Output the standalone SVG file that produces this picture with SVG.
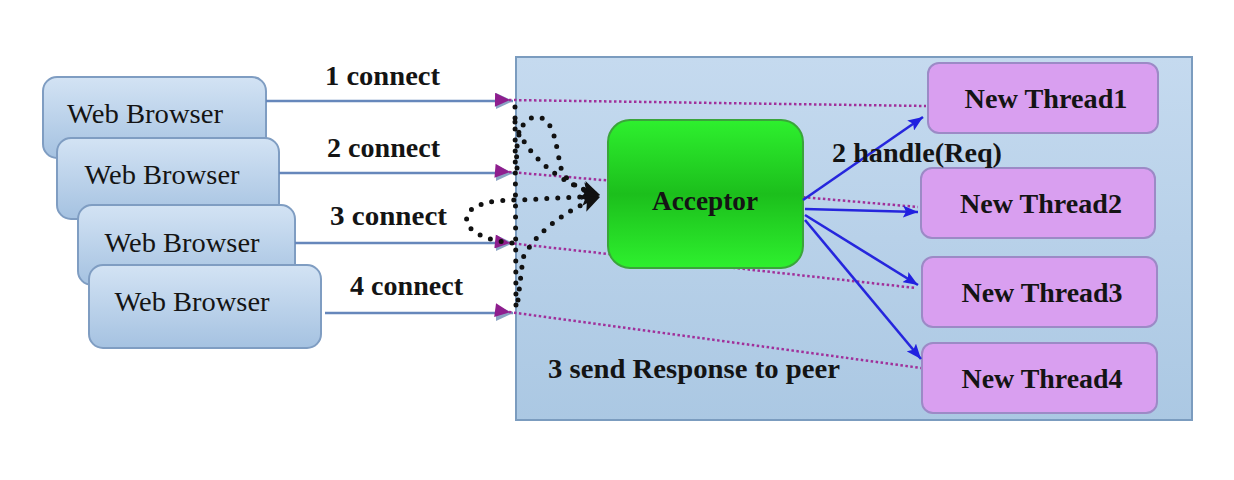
<svg xmlns="http://www.w3.org/2000/svg" width="1234" height="480" viewBox="0 0 1234 480">
<style>
.serif{font-family:"Liberation Serif","Times New Roman",serif;fill:#141414}
.b{font-weight:bold}
.lbl{font-size:27px}
.wb{font-size:28px;font-weight:normal;text-anchor:middle}
.nt{font-size:28px;font-weight:bold;text-anchor:middle}
.box{fill:url(#gBlue);stroke:#7f9dc2;stroke-width:2}
.thr{fill:#d99ff0;stroke:#9c8ac6;stroke-width:2}
.conn{stroke:#6687bb;stroke-width:2.5;fill:none}
.resp{stroke:#a0309a;stroke-width:2.5;fill:none;stroke-dasharray:2.5 2.5}
.loop{stroke:#111;stroke-width:5;fill:none;stroke-dasharray:0 11;stroke-linecap:round}
.hand{stroke:#2626dd;stroke-width:2.6;fill:none}
</style>
<defs>
<linearGradient id="gBlue" x1="0" y1="0" x2="0" y2="1">
<stop offset="0" stop-color="#d3e3f4"/>
<stop offset="1" stop-color="#a5c2e1"/>
</linearGradient>
<linearGradient id="gCont" x1="0" y1="0" x2="0" y2="1">
<stop offset="0" stop-color="#c5daef"/>
<stop offset="1" stop-color="#abc8e3"/>
</linearGradient>
<linearGradient id="gGreen" x1="0" y1="0" x2="0" y2="1">
<stop offset="0" stop-color="#2ef02e"/>
<stop offset="0.5" stop-color="#1cbf1c"/>
<stop offset="1" stop-color="#2ef02e"/>
</linearGradient>
<marker id="mConn" markerUnits="userSpaceOnUse" markerWidth="18" markerHeight="16" refX="17" refY="8" orient="auto">
<path d="M0,0 L17,8 L0,16 Z" fill="#8aa3c3"/>
</marker>
<marker id="mResp" markerUnits="userSpaceOnUse" markerWidth="16" markerHeight="14" refX="1" refY="7" orient="auto-start-reverse">
<path d="M15,0 L0,7 L15,14 Z" fill="#8e1e8e"/>
</marker>
<marker id="mHand" markerUnits="userSpaceOnUse" markerWidth="16" markerHeight="12" refX="15" refY="6" orient="auto">
<path d="M0,0 L15,6 L0,12 L3,6 Z" fill="#2020e0"/>
</marker>
<marker id="mLoop" markerUnits="userSpaceOnUse" markerWidth="20" markerHeight="18" refX="18" refY="9" orient="auto">
<path d="M0,0 L18,9 L0,18 L4,9 Z" fill="#111"/>
</marker>
</defs>
<rect width="1234" height="480" fill="#ffffff"/>

<g id="server">
<rect x="516" y="57" width="676" height="363" fill="url(#gCont)" stroke="#7b9cbf" stroke-width="2"/>
</g>

<g id="browser1"><rect class="box" x="43" y="77" width="223" height="81" rx="14"/><text class="serif wb" x="145" y="123" textLength="156" lengthAdjust="spacingAndGlyphs">Web Browser</text></g>
<g id="browser2"><rect class="box" x="57" y="138" width="222" height="81" rx="14"/><text class="serif wb" x="162" y="184" textLength="155" lengthAdjust="spacingAndGlyphs">Web Browser</text></g>
<g id="browser3"><rect class="box" x="78" y="205" width="217" height="80" rx="14"/><text class="serif wb" x="182" y="252" textLength="155" lengthAdjust="spacingAndGlyphs">Web Browser</text></g>
<g id="browser4"><rect class="box" x="89" y="265" width="232" height="83" rx="14"/><text class="serif wb" x="192" y="311" textLength="155" lengthAdjust="spacingAndGlyphs">Web Browser</text></g>

<g id="connectors">
<line class="conn" x1="266" y1="101" x2="513" y2="101" marker-end="url(#mConn)"/>
<line class="conn" x1="279" y1="173" x2="513" y2="173" marker-end="url(#mConn)"/>
<line class="conn" x1="295" y1="243" x2="513" y2="243" marker-end="url(#mConn)"/>
<line class="conn" x1="325" y1="313" x2="513" y2="313" marker-end="url(#mConn)"/>
<line class="resp" x1="509" y1="100" x2="926" y2="106" marker-start="url(#mResp)"/>
<line class="resp" x1="509" y1="172" x2="918" y2="207" marker-start="url(#mResp)"/>
<line class="resp" x1="509" y1="243" x2="916" y2="288" marker-start="url(#mResp)"/>
<line class="resp" x1="509" y1="312" x2="921" y2="368" marker-start="url(#mResp)"/>
</g>

<g id="acceptor">
<rect x="608" y="120" width="195" height="148" rx="22" fill="url(#gGreen)" stroke="#3aa53a" stroke-width="2"/>
<text class="serif nt" x="705" y="210" textLength="106" lengthAdjust="spacingAndGlyphs">Acceptor</text>
</g>

<g id="thread1"><rect class="thr" x="928" y="63" width="230" height="70" rx="11"/><text class="serif nt" x="1046" y="108" textLength="163" lengthAdjust="spacingAndGlyphs">New Thread1</text></g>
<g id="thread2"><rect class="thr" x="921" y="168" width="234" height="70" rx="11"/><text class="serif nt" x="1041" y="213" textLength="162" lengthAdjust="spacingAndGlyphs">New Thread2</text></g>
<g id="thread3"><rect class="thr" x="922" y="257" width="235" height="70" rx="11"/><text class="serif nt" x="1042" y="302" textLength="161" lengthAdjust="spacingAndGlyphs">New Thread3</text></g>
<g id="thread4"><rect class="thr" x="922" y="343" width="235" height="70" rx="11"/><text class="serif nt" x="1042" y="388" textLength="161" lengthAdjust="spacingAndGlyphs">New Thread4</text></g>

<g id="loops">
<path class="loop" d="M515,107 L516,308"/>
<path class="loop" d="M515,122 C520,140 535,160 560,177 C572,185 584,190 600,195" marker-end="url(#mLoop)"/>
<path class="loop" d="M517,168 C515,140 520,117 537,117 C555,118 556,148 561,168 C566,183 582,191 600,195" marker-end="url(#mLoop)"/>
<path class="loop" d="M512,243 C490,241 463,232 467,216 C471,203 495,200 518,200 L600,196" marker-end="url(#mLoop)"/>
<path class="loop" d="M518,300 L523,258 C532,238 560,212 600,197" marker-end="url(#mLoop)"/>
</g>

<g id="handles">
<line class="hand" x1="803" y1="200" x2="923" y2="117" marker-end="url(#mHand)"/>
<line class="hand" x1="805" y1="209" x2="918" y2="212" marker-end="url(#mHand)"/>
<line class="hand" x1="805" y1="215" x2="918" y2="285" marker-end="url(#mHand)"/>
<line class="hand" x1="805" y1="220" x2="921" y2="359" marker-end="url(#mHand)"/>
</g>

<g id="labels">
<text class="serif b lbl" x="325" y="85" textLength="115" lengthAdjust="spacingAndGlyphs">1 connect</text>
<text class="serif b lbl" x="327" y="157" textLength="113" lengthAdjust="spacingAndGlyphs">2 connect</text>
<text class="serif b lbl" x="330" y="225" textLength="117" lengthAdjust="spacingAndGlyphs">3 connect</text>
<text class="serif b lbl" x="350" y="295" textLength="113" lengthAdjust="spacingAndGlyphs">4 connect</text>
<text class="serif b lbl" x="832" y="162" textLength="170" lengthAdjust="spacingAndGlyphs">2 handle(Req)</text>
<text class="serif b lbl" x="548" y="378" textLength="292" lengthAdjust="spacingAndGlyphs">3 send Response to peer</text>
</g>
</svg>
